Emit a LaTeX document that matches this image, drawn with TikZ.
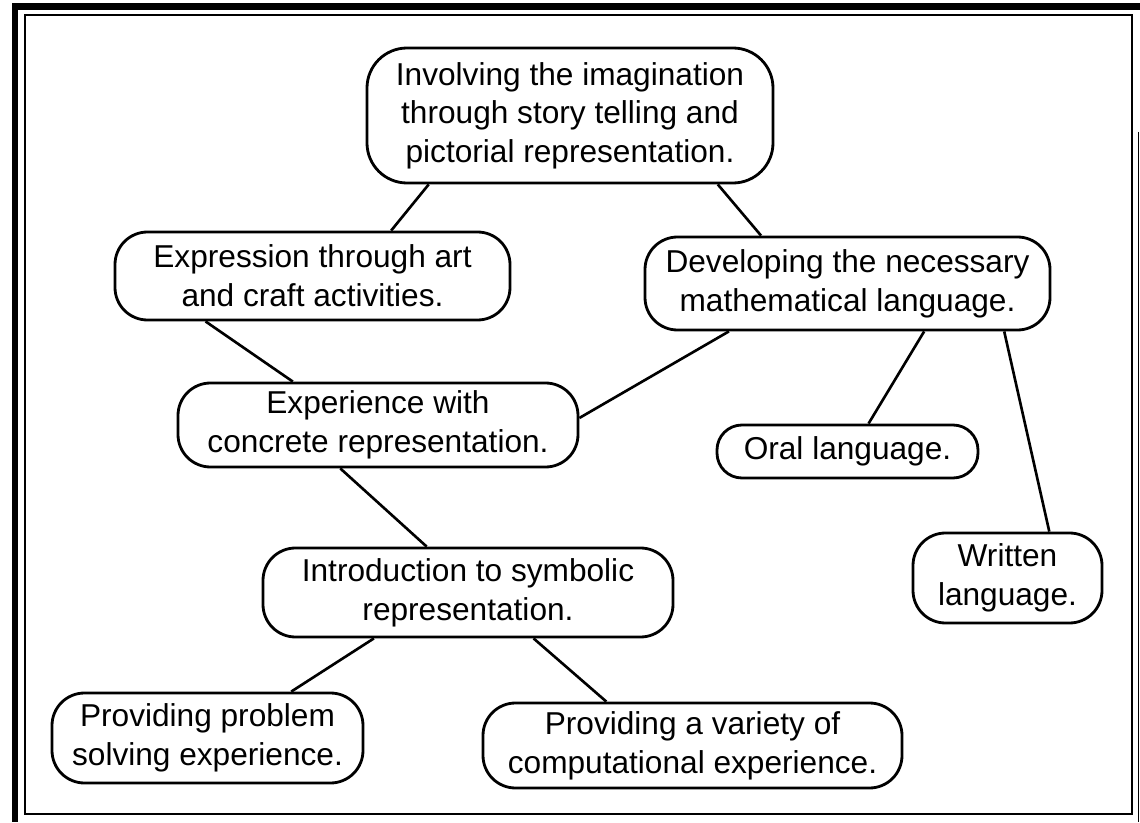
\documentclass[tikz,border=0pt]{standalone}
\usepackage{fontspec}
\setmainfont{Liberation Sans}
\usepackage{tikz}

\begin{document}
\begin{tikzpicture}[
  idea/.style={draw,line width=1.6pt,rounded corners=0.65cm,align=center,inner sep=0pt,
    font=\fontsize{18}{22}\selectfont},
  link/.style={line width=1.5pt}
]
  \useasboundingbox (0,0) rectangle (22.8,16.44);

  % Frame
  \fill (0.24,16.38) rectangle (22.8,16.24);
  \fill (0.24,16.38) rectangle (0.36,0);
  \draw[line width=0.8pt] (0.5,0.16) rectangle (22.64,16.14);
  \draw[line width=0.5pt] (22.77,13.8) -- (22.77,0);

  % Top concept
  \node[idea,minimum width=8.12cm,minimum height=2.70cm,rounded corners=0.8cm] (imagine) at (11.40,14.13)
    {Involving the imagination\\through story telling and\\pictorial representation.};

  % Second row
  \node[idea,minimum width=7.90cm,minimum height=1.76cm] (art) at (6.25,10.92)
    {Expression through art\\and craft activities.};
  \node[idea,minimum width=8.10cm,minimum height=1.86cm] (lang) at (16.95,10.77)
    {Developing the necessary\\mathematical language.};

  % Middle
  \node[idea,minimum width=8.00cm,minimum height=1.68cm] (concrete) at (7.56,7.94)
    {Experience with\\concrete representation.};
  \node[idea,minimum width=5.22cm,minimum height=1.06cm,rounded corners=0.5cm] (oral) at (16.95,7.41)
    {Oral language.};
  \node[idea,minimum width=3.78cm,minimum height=1.80cm] (written) at (20.15,4.88)
    {Written\\language.};

  % Lower
  \node[idea,minimum width=8.20cm,minimum height=1.78cm] (symbolic) at (9.36,4.59)
    {Introduction to symbolic\\representation.};
  \node[idea,minimum width=6.22cm,minimum height=1.80cm] (problem) at (4.15,1.68)
    {Providing problem\\solving experience.};
  \node[idea,minimum width=8.38cm,minimum height=1.70cm] (compute) at (13.85,1.53)
    {Providing a variety of\\computational experience.};

  % Links
  \draw[link] (imagine.206.1) -- (art.30.6);
  \draw[link] (imagine.335.5) -- (lang.151.2);
  \draw[link] (art.203.9) -- (concrete.153.7);
  \draw[link] (lang.202.5) -- (concrete.2.3);
  \draw[link] (lang.328.4) -- (oral.53.6);
  \draw[link] (lang.343.7) -- (written.48.7);
  \draw[link] (concrete.229.4) -- (symbolic.132.7);
  \draw[link] (symbolic.206.1) -- (problem.29.2);
  \draw[link] (symbolic.325.6) -- (compute.153.6);
\end{tikzpicture}
\end{document}
